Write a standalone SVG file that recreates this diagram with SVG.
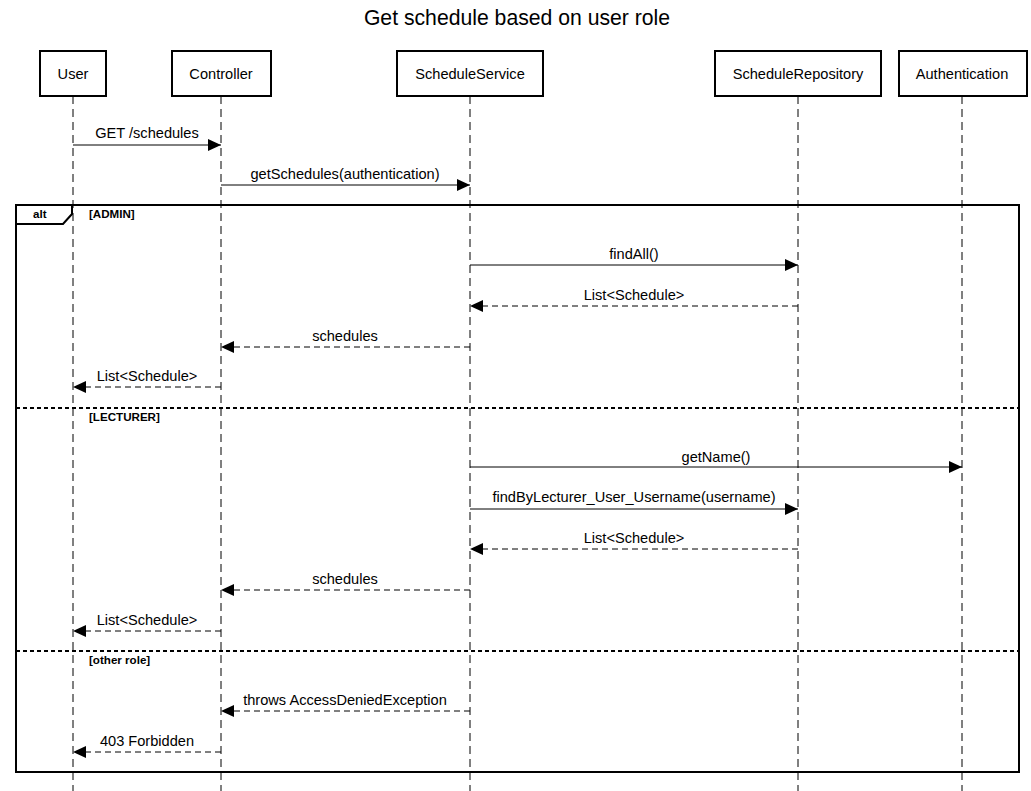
<svg xmlns="http://www.w3.org/2000/svg" width="1031" height="791" viewBox="0 0 1031 791">
<style>
text{font-family:"Liberation Sans",Arial,sans-serif;fill:#000}
.title{font-size:21.2px;text-anchor:middle}
.pt{font-size:14.6px;text-anchor:middle}
.ml{font-size:14.6px;text-anchor:middle}
.box{fill:#fff;stroke:#000;stroke-width:2}
.life{stroke:#000;stroke-width:1;stroke-dasharray:8 5;fill:none}
.msg{stroke:#000;stroke-width:1;fill:none}
.ret{stroke:#000;stroke-width:1;fill:none;stroke-dasharray:6 4}
.frame{fill:none;stroke:#000;stroke-width:2}
.div{stroke:#000;stroke-width:2;stroke-dasharray:4 3}
.guard{font-size:11.6px;font-weight:bold}
</style>
<defs>
<marker id="ah" markerWidth="13" markerHeight="12" refX="13" refY="6" orient="auto" markerUnits="userSpaceOnUse">
<path d="M0,0 L13,6 L0,12 Z" fill="#000"/>
</marker>
</defs>
<rect width="1031" height="791" fill="#fff"/>
<text class="title" x="517" y="25">Get schedule based on user role</text>

<g id="lifelines">
<line class="life" x1="73" y1="96" x2="73" y2="791"/>
<line class="life" x1="221" y1="96" x2="221" y2="791"/>
<line class="life" x1="470" y1="96" x2="470" y2="791"/>
<line class="life" x1="798" y1="96" x2="798" y2="791"/>
<line class="life" x1="962" y1="96" x2="962" y2="791"/>
</g>

<g id="p-user"><rect class="box" x="40" y="51" width="66" height="45"/><text class="pt" x="73" y="79">User</text></g>
<g id="p-controller"><rect class="box" x="172" y="51" width="99" height="45"/><text class="pt" x="221" y="79">Controller</text></g>
<g id="p-service"><rect class="box" x="397" y="51" width="146" height="45"/><text class="pt" x="470" y="79">ScheduleService</text></g>
<g id="p-repo"><rect class="box" x="715" y="51" width="166" height="45"/><text class="pt" x="798" y="79">ScheduleRepository</text></g>
<g id="p-auth"><rect class="box" x="899" y="51" width="128" height="45"/><text class="pt" x="962" y="79">Authentication</text></g>

<g id="alt-frame">
<rect class="frame" x="16" y="205" width="1003" height="567"/>
<path d="M16,224 L63,224 L72,214 L72,205" fill="none" stroke="#000" stroke-width="2"/>
<text x="33" y="218" style="font-size:11.6px;font-weight:bold">alt</text>
<text class="guard" x="89" y="218">[ADMIN]</text>
<line class="div" x1="16" y1="408" x2="1019" y2="408"/>
<text class="guard" x="89" y="421">[LECTURER]</text>
<line class="div" x1="16" y1="651" x2="1019" y2="651"/>
<text class="guard" x="89" y="664">[other role]</text>
</g>

<g id="connectors">
<line class="msg" x1="73" y1="145" x2="221" y2="145" marker-end="url(#ah)"/>
<text class="ml" x="147" y="138">GET /schedules</text>
<line class="msg" x1="221" y1="185" x2="470" y2="185" marker-end="url(#ah)"/>
<text class="ml" x="345" y="179">getSchedules(authentication)</text>

<line class="msg" x1="470" y1="265" x2="798" y2="265" marker-end="url(#ah)"/>
<text class="ml" x="634" y="259">findAll()</text>
<line class="ret" x1="798" y1="306" x2="470" y2="306" marker-end="url(#ah)"/>
<text class="ml" x="634" y="300">List&lt;Schedule&gt;</text>
<line class="ret" x1="470" y1="347" x2="221" y2="347" marker-end="url(#ah)"/>
<text class="ml" x="345" y="341">schedules</text>
<line class="ret" x1="221" y1="387" x2="73" y2="387" marker-end="url(#ah)"/>
<text class="ml" x="147" y="381">List&lt;Schedule&gt;</text>

<line class="msg" x1="470" y1="467" x2="962" y2="467" marker-end="url(#ah)"/>
<text class="ml" x="716" y="462">getName()</text>
<line class="msg" x1="470" y1="509" x2="798" y2="509" marker-end="url(#ah)"/>
<text class="ml" x="634" y="502">findByLecturer_User_Username(username)</text>
<line class="ret" x1="798" y1="549" x2="470" y2="549" marker-end="url(#ah)"/>
<text class="ml" x="634" y="543">List&lt;Schedule&gt;</text>
<line class="ret" x1="470" y1="590" x2="221" y2="590" marker-end="url(#ah)"/>
<text class="ml" x="345" y="584">schedules</text>
<line class="ret" x1="221" y1="631" x2="73" y2="631" marker-end="url(#ah)"/>
<text class="ml" x="147" y="625">List&lt;Schedule&gt;</text>

<line class="ret" x1="470" y1="711" x2="221" y2="711" marker-end="url(#ah)"/>
<text class="ml" x="345" y="705">throws AccessDeniedException</text>
<line class="ret" x1="221" y1="752" x2="73" y2="752" marker-end="url(#ah)"/>
<text class="ml" x="147" y="746">403 Forbidden</text>
</g>
</svg>
